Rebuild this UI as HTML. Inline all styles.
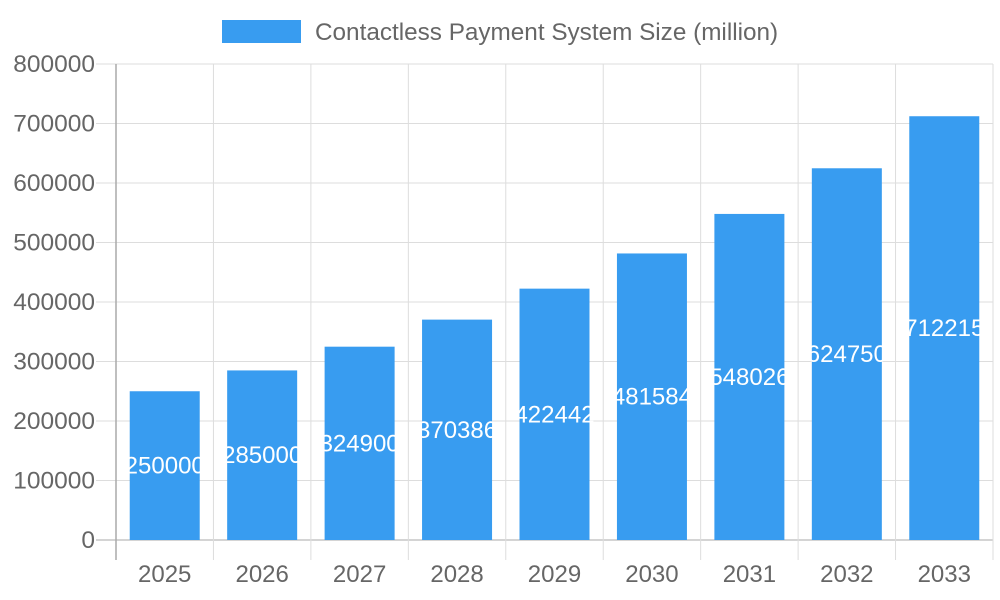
<!DOCTYPE html>
<html><head><meta charset="utf-8"><style>
body{margin:0;background:#fff;}
svg{display:block;font-family:"Liberation Sans",sans-serif;}
</style></head><body>
<svg id="chart" width="1000" height="600">
<g id="grid"></g>
<g id="bars"></g>
<g id="axes"></g>
<g>
<rect x="222" y="20" width="79" height="23" fill="#389cf0"/>
<text x="315" y="40" font-size="24.3" fill="#666">Contactless Payment System Size (million)</text>
</g>
</svg>
<script>
const categories=["2025","2026","2027","2028","2029","2030","2031","2032","2033"];
const values=[250000,285000,324900,370386,422442,481584,548026,624750,712215];
const yTicks=[0,100000,200000,300000,400000,500000,600000,700000,800000];
const NS="http://www.w3.org/2000/svg";
const L=116,R=993,T=64,B=540,yMax=800000;
const bw=(R-L)/categories.length;
const y=v=>B-(v/yMax)*(B-T);
const xc=i=>L+bw*(i+0.5);
function mk(p,tag,a){const e=document.createElementNS(NS,tag);for(const k in a)e.setAttribute(k,a[k]);p.appendChild(e);return e;}
const grid=document.getElementById('grid'),bars=document.getElementById('bars'),axes=document.getElementById('axes');
yTicks.forEach(t=>{
 const l=mk(grid,'line',{x1:L-20,x2:R,y1:y(t),y2:y(t),stroke:t===0?'#aaa':'#ddd','stroke-width':1});
 
 
 const tx=mk(axes,'text',{x:L-21,y:y(t)+8,'text-anchor':'end','font-size':24.5,fill:'#666'});
 tx.textContent=t;
 
 
});
for(let i=0;i<=categories.length;i++){
 const x=L+bw*i;
 const l=mk(grid,'line',{x1:x,x2:x,y1:T,y2:B+20,stroke:i===0?'#aaa':'#ddd','stroke-width':i===0?1.5:1});
 
 
}
categories.forEach((c,i)=>{
 const r=mk(bars,'rect',{x:xc(i)-35,y:y(values[i]),width:70,height:B-y(values[i]),fill:'#389cf0'});
 
 
 const v=mk(bars,'text',{x:xc(i),y:(y(values[i])+B)/2+8,'text-anchor':'middle','font-size':24,fill:'#fff'});
 v.textContent=values[i];
 
 
 const t=mk(axes,'text',{x:xc(i),y:582,'text-anchor':'middle','font-size':24,fill:'#666'});
 t.textContent=c;
 
 
});
</script>
</body></html>
